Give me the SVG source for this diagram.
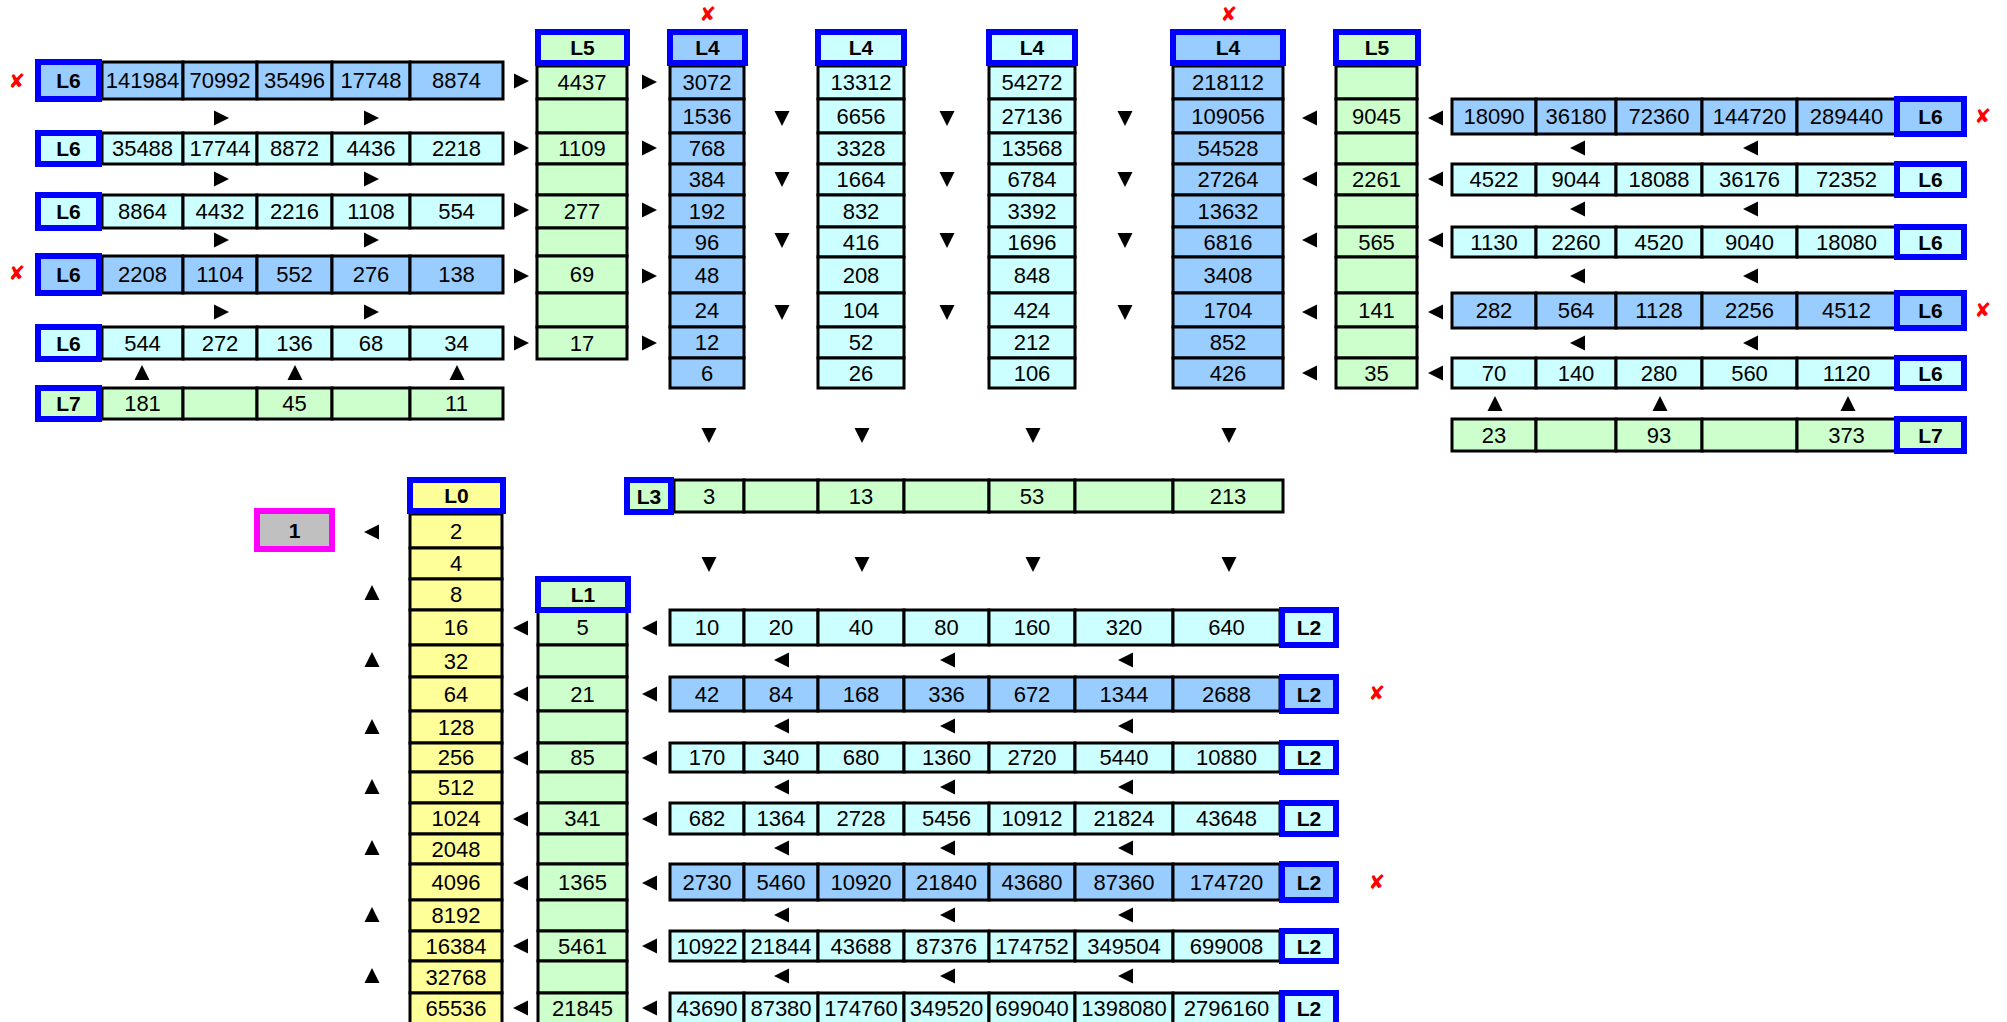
<svg xmlns="http://www.w3.org/2000/svg" xmlns:xlink="http://www.w3.org/1999/xlink" width="2007" height="1022" viewBox="0 0 2007 1022">
<style>
.k{stroke:#000;stroke-width:3}
.b{fill:#99CCFF}.c{fill:#CCFFFF}.g{fill:#CCFFCC}.y{fill:#FFFF99}
.lb{stroke:#0000FF;stroke-width:6}
text{font-family:"Liberation Sans",Arial,sans-serif;font-size:22px;text-anchor:middle;fill:#000}
.h{font-weight:bold;font-size:21px}
.x{fill:#FF0000;font-family:"DejaVu Sans",sans-serif;font-size:20px}
</style>
<defs>
<path id="ar" d="M-7 -7.5L8 0L-7 7.5Z"/>
<path id="al" d="M7 -7.5L-8 0L7 7.5Z"/>
<path id="au" d="M-7.5 7L0 -8L7.5 7Z"/>
<path id="ad" d="M-7.5 -7L0 8L7.5 -7Z"/>
</defs>
<rect width="2007" height="1022" fill="#fff"/>

<!-- Left L6 rows -->
<g id="left-l6-1">
<rect class="k b" x="102" y="62" width="81" height="37"/><rect class="k b" x="183" y="62" width="74" height="37"/><rect class="k b" x="257" y="62" width="75" height="37"/><rect class="k b" x="332" y="62" width="78" height="37"/><rect class="k b" x="410" y="62" width="93" height="37"/>
<text x="142.5" y="88">141984</text><text x="220" y="88">70992</text><text x="294.5" y="88">35496</text><text x="371" y="88">17748</text><text x="456.5" y="88">8874</text>
<rect class="lb b" x="38" y="62" width="61" height="37"/><text class="h" x="68.5" y="88">L6</text>
</g>
<g id="left-l6-2">
<rect class="k c" x="102" y="133" width="81" height="31"/><rect class="k c" x="183" y="133" width="74" height="31"/><rect class="k c" x="257" y="133" width="75" height="31"/><rect class="k c" x="332" y="133" width="78" height="31"/><rect class="k c" x="410" y="133" width="93" height="31"/>
<text x="142.5" y="156">35488</text><text x="220" y="156">17744</text><text x="294.5" y="156">8872</text><text x="371" y="156">4436</text><text x="456.5" y="156">2218</text>
<rect class="lb c" x="38" y="133" width="61" height="31"/><text class="h" x="68.5" y="156">L6</text>
</g>
<g id="left-l6-3">
<rect class="k c" x="102" y="195" width="81" height="33"/><rect class="k c" x="183" y="195" width="74" height="33"/><rect class="k c" x="257" y="195" width="75" height="33"/><rect class="k c" x="332" y="195" width="78" height="33"/><rect class="k c" x="410" y="195" width="93" height="33"/>
<text x="142.5" y="219">8864</text><text x="220" y="219">4432</text><text x="294.5" y="219">2216</text><text x="371" y="219">1108</text><text x="456.5" y="219">554</text>
<rect class="lb c" x="38" y="195" width="61" height="33"/><text class="h" x="68.5" y="219">L6</text>
</g>
<g id="left-l6-4">
<rect class="k b" x="102" y="256" width="81" height="37"/><rect class="k b" x="183" y="256" width="74" height="37"/><rect class="k b" x="257" y="256" width="75" height="37"/><rect class="k b" x="332" y="256" width="78" height="37"/><rect class="k b" x="410" y="256" width="93" height="37"/>
<text x="142.5" y="282">2208</text><text x="220" y="282">1104</text><text x="294.5" y="282">552</text><text x="371" y="282">276</text><text x="456.5" y="282">138</text>
<rect class="lb b" x="38" y="256" width="61" height="37"/><text class="h" x="68.5" y="282">L6</text>
</g>
<g id="left-l6-5">
<rect class="k c" x="102" y="327" width="81" height="32"/><rect class="k c" x="183" y="327" width="74" height="32"/><rect class="k c" x="257" y="327" width="75" height="32"/><rect class="k c" x="332" y="327" width="78" height="32"/><rect class="k c" x="410" y="327" width="93" height="32"/>
<text x="142.5" y="350.5">544</text><text x="220" y="350.5">272</text><text x="294.5" y="350.5">136</text><text x="371" y="350.5">68</text><text x="456.5" y="350.5">34</text>
<rect class="lb c" x="38" y="327" width="61" height="32"/><text class="h" x="68.5" y="350.5">L6</text>
</g>
<g id="left-l7">
<rect class="k g" x="102" y="388" width="81" height="31"/><rect class="k g" x="183" y="388" width="74" height="31"/><rect class="k g" x="257" y="388" width="75" height="31"/><rect class="k g" x="332" y="388" width="78" height="31"/><rect class="k g" x="410" y="388" width="93" height="31"/>
<text x="142.5" y="411">181</text><text x="294.5" y="411">45</text><text x="456.5" y="411">11</text>
<rect class="lb g" x="38" y="388" width="61" height="31"/><text class="h" x="68.5" y="411">L7</text>
</g>

<!-- Left L5 column -->
<g id="left-l5">
<rect class="k g" x="537" y="66" width="90" height="33"/><rect class="k g" x="537" y="99" width="90" height="34"/><rect class="k g" x="537" y="133" width="90" height="31"/><rect class="k g" x="537" y="164" width="90" height="31"/><rect class="k g" x="537" y="195" width="90" height="33"/><rect class="k g" x="537" y="228" width="90" height="28"/><rect class="k g" x="537" y="256" width="90" height="37"/><rect class="k g" x="537" y="293" width="90" height="34"/><rect class="k g" x="537" y="327" width="90" height="32"/>
<text x="582" y="90">4437</text><text x="582" y="156">1109</text><text x="582" y="219">277</text><text x="582" y="282">69</text><text x="582" y="350.5">17</text>
<rect class="lb g" x="538" y="32" width="89" height="31"/><text class="h" x="582.5" y="55">L5</text>
</g>

<!-- L4 columns -->
<g id="l4-1">
<rect class="k b" x="670" y="66" width="74" height="33"/><rect class="k b" x="670" y="99" width="74" height="34"/><rect class="k b" x="670" y="133" width="74" height="31"/><rect class="k b" x="670" y="164" width="74" height="31"/><rect class="k b" x="670" y="195" width="74" height="32"/><rect class="k b" x="670" y="227" width="74" height="30"/><rect class="k b" x="670" y="257" width="74" height="36"/><rect class="k b" x="670" y="293" width="74" height="34"/><rect class="k b" x="670" y="327" width="74" height="31"/><rect class="k b" x="670" y="358" width="74" height="30"/>
<text x="707" y="90">3072</text><text x="707" y="123.5">1536</text><text x="707" y="156">768</text><text x="707" y="187">384</text><text x="707" y="218.5">192</text><text x="707" y="249.5">96</text><text x="707" y="282.5">48</text><text x="707" y="317.5">24</text><text x="707" y="350">12</text><text x="707" y="380.5">6</text>
<rect class="lb b" x="670" y="32" width="75" height="31"/><text class="h" x="707.5" y="55">L4</text>
</g>
<g id="l4-2">
<rect class="k c" x="818" y="66" width="86" height="33"/><rect class="k c" x="818" y="99" width="86" height="34"/><rect class="k c" x="818" y="133" width="86" height="31"/><rect class="k c" x="818" y="164" width="86" height="31"/><rect class="k c" x="818" y="195" width="86" height="32"/><rect class="k c" x="818" y="227" width="86" height="30"/><rect class="k c" x="818" y="257" width="86" height="36"/><rect class="k c" x="818" y="293" width="86" height="34"/><rect class="k c" x="818" y="327" width="86" height="31"/><rect class="k c" x="818" y="358" width="86" height="30"/>
<text x="861" y="90">13312</text><text x="861" y="123.5">6656</text><text x="861" y="156">3328</text><text x="861" y="187">1664</text><text x="861" y="218.5">832</text><text x="861" y="249.5">416</text><text x="861" y="282.5">208</text><text x="861" y="317.5">104</text><text x="861" y="350">52</text><text x="861" y="380.5">26</text>
<rect class="lb c" x="818" y="32" width="86" height="31"/><text class="h" x="861" y="55">L4</text>
</g>
<g id="l4-3">
<rect class="k c" x="989" y="66" width="86" height="33"/><rect class="k c" x="989" y="99" width="86" height="34"/><rect class="k c" x="989" y="133" width="86" height="31"/><rect class="k c" x="989" y="164" width="86" height="31"/><rect class="k c" x="989" y="195" width="86" height="32"/><rect class="k c" x="989" y="227" width="86" height="30"/><rect class="k c" x="989" y="257" width="86" height="36"/><rect class="k c" x="989" y="293" width="86" height="34"/><rect class="k c" x="989" y="327" width="86" height="31"/><rect class="k c" x="989" y="358" width="86" height="30"/>
<text x="1032" y="90">54272</text><text x="1032" y="123.5">27136</text><text x="1032" y="156">13568</text><text x="1032" y="187">6784</text><text x="1032" y="218.5">3392</text><text x="1032" y="249.5">1696</text><text x="1032" y="282.5">848</text><text x="1032" y="317.5">424</text><text x="1032" y="350">212</text><text x="1032" y="380.5">106</text>
<rect class="lb c" x="989" y="32" width="86" height="31"/><text class="h" x="1032" y="55">L4</text>
</g>
<g id="l4-4">
<rect class="k b" x="1173" y="66" width="110" height="33"/><rect class="k b" x="1173" y="99" width="110" height="34"/><rect class="k b" x="1173" y="133" width="110" height="31"/><rect class="k b" x="1173" y="164" width="110" height="31"/><rect class="k b" x="1173" y="195" width="110" height="32"/><rect class="k b" x="1173" y="227" width="110" height="30"/><rect class="k b" x="1173" y="257" width="110" height="36"/><rect class="k b" x="1173" y="293" width="110" height="34"/><rect class="k b" x="1173" y="327" width="110" height="31"/><rect class="k b" x="1173" y="358" width="110" height="30"/>
<text x="1228" y="90">218112</text><text x="1228" y="123.5">109056</text><text x="1228" y="156">54528</text><text x="1228" y="187">27264</text><text x="1228" y="218.5">13632</text><text x="1228" y="249.5">6816</text><text x="1228" y="282.5">3408</text><text x="1228" y="317.5">1704</text><text x="1228" y="350">852</text><text x="1228" y="380.5">426</text>
<rect class="lb b" x="1173" y="32" width="110" height="31"/><text class="h" x="1228" y="55">L4</text>
</g>

<!-- Right L5 column -->
<g id="right-l5">
<rect class="k g" x="1336" y="66" width="81" height="33"/><rect class="k g" x="1336" y="99" width="81" height="34"/><rect class="k g" x="1336" y="133" width="81" height="31"/><rect class="k g" x="1336" y="164" width="81" height="31"/><rect class="k g" x="1336" y="195" width="81" height="32"/><rect class="k g" x="1336" y="227" width="81" height="30"/><rect class="k g" x="1336" y="257" width="81" height="36"/><rect class="k g" x="1336" y="293" width="81" height="34"/><rect class="k g" x="1336" y="327" width="81" height="31"/><rect class="k g" x="1336" y="358" width="81" height="30"/>
<text x="1376.5" y="123.5">9045</text><text x="1376.5" y="187">2261</text><text x="1376.5" y="249.5">565</text><text x="1376.5" y="317.5">141</text><text x="1376.5" y="380.5">35</text>
<rect class="lb g" x="1336" y="32" width="82" height="31"/><text class="h" x="1377" y="55">L5</text>
</g>

<!-- Right L6 rows -->
<g id="right-l6-1">
<rect class="k b" x="1452" y="99" width="84" height="35"/><rect class="k b" x="1536" y="99" width="80" height="35"/><rect class="k b" x="1616" y="99" width="86" height="35"/><rect class="k b" x="1702" y="99" width="95" height="35"/><rect class="k b" x="1797" y="99" width="99" height="35"/>
<text x="1494" y="124">18090</text><text x="1576" y="124">36180</text><text x="1659" y="124">72360</text><text x="1749.5" y="124">144720</text><text x="1846.5" y="124">289440</text>
<rect class="lb b" x="1897" y="99" width="67" height="35"/><text class="h" x="1930.5" y="124">L6</text>
</g>
<g id="right-l6-2">
<rect class="k c" x="1452" y="164" width="84" height="31"/><rect class="k c" x="1536" y="164" width="80" height="31"/><rect class="k c" x="1616" y="164" width="86" height="31"/><rect class="k c" x="1702" y="164" width="95" height="31"/><rect class="k c" x="1797" y="164" width="99" height="31"/>
<text x="1494" y="187">4522</text><text x="1576" y="187">9044</text><text x="1659" y="187">18088</text><text x="1749.5" y="187">36176</text><text x="1846.5" y="187">72352</text>
<rect class="lb c" x="1897" y="164" width="67" height="31"/><text class="h" x="1930.5" y="187">L6</text>
</g>
<g id="right-l6-3">
<rect class="k c" x="1452" y="227" width="84" height="30"/><rect class="k c" x="1536" y="227" width="80" height="30"/><rect class="k c" x="1616" y="227" width="86" height="30"/><rect class="k c" x="1702" y="227" width="95" height="30"/><rect class="k c" x="1797" y="227" width="99" height="30"/>
<text x="1494" y="249.5">1130</text><text x="1576" y="249.5">2260</text><text x="1659" y="249.5">4520</text><text x="1749.5" y="249.5">9040</text><text x="1846.5" y="249.5">18080</text>
<rect class="lb c" x="1897" y="227" width="67" height="30"/><text class="h" x="1930.5" y="249.5">L6</text>
</g>
<g id="right-l6-4">
<rect class="k b" x="1452" y="293" width="84" height="35"/><rect class="k b" x="1536" y="293" width="80" height="35"/><rect class="k b" x="1616" y="293" width="86" height="35"/><rect class="k b" x="1702" y="293" width="95" height="35"/><rect class="k b" x="1797" y="293" width="99" height="35"/>
<text x="1494" y="318">282</text><text x="1576" y="318">564</text><text x="1659" y="318">1128</text><text x="1749.5" y="318">2256</text><text x="1846.5" y="318">4512</text>
<rect class="lb b" x="1897" y="293" width="67" height="35"/><text class="h" x="1930.5" y="318">L6</text>
</g>
<g id="right-l6-5">
<rect class="k c" x="1452" y="358" width="84" height="30"/><rect class="k c" x="1536" y="358" width="80" height="30"/><rect class="k c" x="1616" y="358" width="86" height="30"/><rect class="k c" x="1702" y="358" width="95" height="30"/><rect class="k c" x="1797" y="358" width="99" height="30"/>
<text x="1494" y="380.5">70</text><text x="1576" y="380.5">140</text><text x="1659" y="380.5">280</text><text x="1749.5" y="380.5">560</text><text x="1846.5" y="380.5">1120</text>
<rect class="lb c" x="1897" y="358" width="67" height="30"/><text class="h" x="1930.5" y="380.5">L6</text>
</g>
<g id="right-l7">
<rect class="k g" x="1452" y="419" width="84" height="32"/><rect class="k g" x="1536" y="419" width="80" height="32"/><rect class="k g" x="1616" y="419" width="86" height="32"/><rect class="k g" x="1702" y="419" width="95" height="32"/><rect class="k g" x="1797" y="419" width="99" height="32"/>
<text x="1494" y="442.5">23</text><text x="1659" y="442.5">93</text><text x="1846.5" y="442.5">373</text>
<rect class="lb g" x="1897" y="419" width="67" height="32"/><text class="h" x="1930.5" y="442.5">L7</text>
</g>

<!-- L3 row -->
<g id="l3">
<rect class="k g" x="674" y="480" width="70" height="32"/><rect class="k g" x="744" y="480" width="74" height="32"/><rect class="k g" x="818" y="480" width="86" height="32"/><rect class="k g" x="904" y="480" width="85" height="32"/><rect class="k g" x="989" y="480" width="86" height="32"/><rect class="k g" x="1075" y="480" width="98" height="32"/><rect class="k g" x="1173" y="480" width="110" height="32"/>
<text x="709" y="503.5">3</text><text x="861" y="503.5">13</text><text x="1032" y="503.5">53</text><text x="1228" y="503.5">213</text>
<rect class="lb g" x="627" y="480" width="44" height="32"/><text class="h" x="649" y="503.5">L3</text>
</g>

<!-- Result -->
<g id="result">
<rect x="257" y="511" width="75" height="38" fill="#C0C0C0" stroke="#FF00FF" stroke-width="6"/>
<text class="h" x="294.5" y="537.5">1</text>
</g>

<!-- L0 column -->
<g id="l0">
<rect class="k y" x="410" y="514" width="92" height="34"/><rect class="k y" x="410" y="548" width="92" height="31"/><rect class="k y" x="410" y="579" width="92" height="31"/><rect class="k y" x="410" y="610" width="92" height="35"/><rect class="k y" x="410" y="645" width="92" height="32"/><rect class="k y" x="410" y="677" width="92" height="34"/><rect class="k y" x="410" y="711" width="92" height="32"/><rect class="k y" x="410" y="743" width="92" height="29"/><rect class="k y" x="410" y="772" width="92" height="31"/><rect class="k y" x="410" y="803" width="92" height="31"/><rect class="k y" x="410" y="834" width="92" height="30"/><rect class="k y" x="410" y="864" width="92" height="36"/><rect class="k y" x="410" y="900" width="92" height="31"/><rect class="k y" x="410" y="931" width="92" height="30"/><rect class="k y" x="410" y="961" width="92" height="32"/><rect class="k y" x="410" y="993" width="92" height="33"/>
<text x="456" y="538.5">2</text><text x="456" y="571">4</text><text x="456" y="602">8</text><text x="456" y="635">16</text><text x="456" y="668.5">32</text><text x="456" y="701.5">64</text><text x="456" y="734.5">128</text><text x="456" y="765">256</text><text x="456" y="795">512</text><text x="456" y="826">1024</text><text x="456" y="856.5">2048</text><text x="456" y="889.5">4096</text><text x="456" y="923">8192</text><text x="456" y="953.5">16384</text><text x="456" y="984.5">32768</text><text x="456" y="1015.5">65536</text>
<rect class="lb y" x="410" y="480" width="93" height="31"/><text class="h" x="456.5" y="503">L0</text>
</g>

<!-- L1 column -->
<g id="l1">
<rect class="k g" x="538" y="610" width="89" height="35"/><rect class="k g" x="538" y="645" width="89" height="32"/><rect class="k g" x="538" y="677" width="89" height="34"/><rect class="k g" x="538" y="711" width="89" height="32"/><rect class="k g" x="538" y="743" width="89" height="29"/><rect class="k g" x="538" y="772" width="89" height="31"/><rect class="k g" x="538" y="803" width="89" height="31"/><rect class="k g" x="538" y="834" width="89" height="30"/><rect class="k g" x="538" y="864" width="89" height="36"/><rect class="k g" x="538" y="900" width="89" height="31"/><rect class="k g" x="538" y="931" width="89" height="30"/><rect class="k g" x="538" y="961" width="89" height="32"/><rect class="k g" x="538" y="993" width="89" height="33"/>
<text x="582.5" y="635">5</text><text x="582.5" y="701.5">21</text><text x="582.5" y="765">85</text><text x="582.5" y="826">341</text><text x="582.5" y="889.5">1365</text><text x="582.5" y="953.5">5461</text><text x="582.5" y="1015.5">21845</text>
<rect class="lb g" x="538" y="579" width="90" height="31"/><text class="h" x="583" y="602">L1</text>
</g>

<!-- L2 rows -->
<g id="l2-1">
<rect class="k c" x="670" y="610" width="74" height="35"/><rect class="k c" x="744" y="610" width="74" height="35"/><rect class="k c" x="818" y="610" width="86" height="35"/><rect class="k c" x="904" y="610" width="85" height="35"/><rect class="k c" x="989" y="610" width="86" height="35"/><rect class="k c" x="1075" y="610" width="98" height="35"/><rect class="k c" x="1173" y="610" width="107" height="35"/>
<text x="707" y="635">10</text><text x="781" y="635">20</text><text x="861" y="635">40</text><text x="946.5" y="635">80</text><text x="1032" y="635">160</text><text x="1124" y="635">320</text><text x="1226.5" y="635">640</text>
<rect class="lb c" x="1282" y="610" width="54" height="35"/><text class="h" x="1309" y="635">L2</text>
</g>
<g id="l2-2">
<rect class="k b" x="670" y="677" width="74" height="34"/><rect class="k b" x="744" y="677" width="74" height="34"/><rect class="k b" x="818" y="677" width="86" height="34"/><rect class="k b" x="904" y="677" width="85" height="34"/><rect class="k b" x="989" y="677" width="86" height="34"/><rect class="k b" x="1075" y="677" width="98" height="34"/><rect class="k b" x="1173" y="677" width="107" height="34"/>
<text x="707" y="701.5">42</text><text x="781" y="701.5">84</text><text x="861" y="701.5">168</text><text x="946.5" y="701.5">336</text><text x="1032" y="701.5">672</text><text x="1124" y="701.5">1344</text><text x="1226.5" y="701.5">2688</text>
<rect class="lb b" x="1282" y="677" width="54" height="34"/><text class="h" x="1309" y="701.5">L2</text>
</g>
<g id="l2-3">
<rect class="k c" x="670" y="743" width="74" height="29"/><rect class="k c" x="744" y="743" width="74" height="29"/><rect class="k c" x="818" y="743" width="86" height="29"/><rect class="k c" x="904" y="743" width="85" height="29"/><rect class="k c" x="989" y="743" width="86" height="29"/><rect class="k c" x="1075" y="743" width="98" height="29"/><rect class="k c" x="1173" y="743" width="107" height="29"/>
<text x="707" y="765">170</text><text x="781" y="765">340</text><text x="861" y="765">680</text><text x="946.5" y="765">1360</text><text x="1032" y="765">2720</text><text x="1124" y="765">5440</text><text x="1226.5" y="765">10880</text>
<rect class="lb c" x="1282" y="743" width="54" height="29"/><text class="h" x="1309" y="765">L2</text>
</g>
<g id="l2-4">
<rect class="k c" x="670" y="803" width="74" height="31"/><rect class="k c" x="744" y="803" width="74" height="31"/><rect class="k c" x="818" y="803" width="86" height="31"/><rect class="k c" x="904" y="803" width="85" height="31"/><rect class="k c" x="989" y="803" width="86" height="31"/><rect class="k c" x="1075" y="803" width="98" height="31"/><rect class="k c" x="1173" y="803" width="107" height="31"/>
<text x="707" y="826">682</text><text x="781" y="826">1364</text><text x="861" y="826">2728</text><text x="946.5" y="826">5456</text><text x="1032" y="826">10912</text><text x="1124" y="826">21824</text><text x="1226.5" y="826">43648</text>
<rect class="lb c" x="1282" y="803" width="54" height="31"/><text class="h" x="1309" y="826">L2</text>
</g>
<g id="l2-5">
<rect class="k b" x="670" y="864" width="74" height="36"/><rect class="k b" x="744" y="864" width="74" height="36"/><rect class="k b" x="818" y="864" width="86" height="36"/><rect class="k b" x="904" y="864" width="85" height="36"/><rect class="k b" x="989" y="864" width="86" height="36"/><rect class="k b" x="1075" y="864" width="98" height="36"/><rect class="k b" x="1173" y="864" width="107" height="36"/>
<text x="707" y="889.5">2730</text><text x="781" y="889.5">5460</text><text x="861" y="889.5">10920</text><text x="946.5" y="889.5">21840</text><text x="1032" y="889.5">43680</text><text x="1124" y="889.5">87360</text><text x="1226.5" y="889.5">174720</text>
<rect class="lb b" x="1282" y="864" width="54" height="36"/><text class="h" x="1309" y="889.5">L2</text>
</g>
<g id="l2-6">
<rect class="k c" x="670" y="931" width="74" height="30"/><rect class="k c" x="744" y="931" width="74" height="30"/><rect class="k c" x="818" y="931" width="86" height="30"/><rect class="k c" x="904" y="931" width="85" height="30"/><rect class="k c" x="989" y="931" width="86" height="30"/><rect class="k c" x="1075" y="931" width="98" height="30"/><rect class="k c" x="1173" y="931" width="107" height="30"/>
<text x="707" y="953.5">10922</text><text x="781" y="953.5">21844</text><text x="861" y="953.5">43688</text><text x="946.5" y="953.5">87376</text><text x="1032" y="953.5">174752</text><text x="1124" y="953.5">349504</text><text x="1226.5" y="953.5">699008</text>
<rect class="lb c" x="1282" y="931" width="54" height="30"/><text class="h" x="1309" y="953.5">L2</text>
</g>
<g id="l2-7">
<rect class="k c" x="670" y="993" width="74" height="33"/><rect class="k c" x="744" y="993" width="74" height="33"/><rect class="k c" x="818" y="993" width="86" height="33"/><rect class="k c" x="904" y="993" width="85" height="33"/><rect class="k c" x="989" y="993" width="86" height="33"/><rect class="k c" x="1075" y="993" width="98" height="33"/><rect class="k c" x="1173" y="993" width="107" height="33"/>
<text x="707" y="1015.5">43690</text><text x="781" y="1015.5">87380</text><text x="861" y="1015.5">174760</text><text x="946.5" y="1015.5">349520</text><text x="1032" y="1015.5">699040</text><text x="1124" y="1015.5">1398080</text><text x="1226.5" y="1015.5">2796160</text>
<rect class="lb c" x="1282" y="993" width="54" height="33"/><text class="h" x="1309" y="1015.5">L2</text>
</g>

<!-- Connectors -->
<g id="connectors">
<use href="#ar" x="221" y="118"/><use href="#ar" x="371" y="118"/><use href="#ar" x="221" y="179"/><use href="#ar" x="371" y="179"/><use href="#ar" x="221" y="240"/><use href="#ar" x="371" y="240"/><use href="#ar" x="221" y="312"/><use href="#ar" x="371" y="312"/>
<use href="#ar" x="521" y="81"/><use href="#ar" x="521" y="148"/><use href="#ar" x="521" y="210"/><use href="#ar" x="521" y="276"/><use href="#ar" x="521" y="343"/>
<use href="#ar" x="649" y="82"/><use href="#ar" x="649" y="148"/><use href="#ar" x="649" y="210"/><use href="#ar" x="649" y="276"/><use href="#ar" x="649" y="343"/>
<use href="#au" x="142" y="373"/><use href="#au" x="295" y="373"/><use href="#au" x="457" y="373"/>
<use href="#ad" x="782" y="118"/><use href="#ad" x="782" y="179"/><use href="#ad" x="782" y="240"/><use href="#ad" x="782" y="312"/>
<use href="#ad" x="947" y="118"/><use href="#ad" x="947" y="179"/><use href="#ad" x="947" y="240"/><use href="#ad" x="947" y="312"/>
<use href="#ad" x="1125" y="118"/><use href="#ad" x="1125" y="179"/><use href="#ad" x="1125" y="240"/><use href="#ad" x="1125" y="312"/>
<use href="#al" x="1310" y="118"/><use href="#al" x="1310" y="179"/><use href="#al" x="1310" y="240"/><use href="#al" x="1310" y="312"/><use href="#al" x="1310" y="373"/>
<use href="#al" x="1436" y="118"/><use href="#al" x="1436" y="179"/><use href="#al" x="1436" y="240"/><use href="#al" x="1436" y="312"/><use href="#al" x="1436" y="373"/>
<use href="#al" x="1578" y="148"/><use href="#al" x="1751" y="148"/><use href="#al" x="1578" y="209"/><use href="#al" x="1751" y="209"/><use href="#al" x="1578" y="276"/><use href="#al" x="1751" y="276"/><use href="#al" x="1578" y="343"/><use href="#al" x="1751" y="343"/>
<use href="#au" x="1495" y="404"/><use href="#au" x="1660" y="404"/><use href="#au" x="1848" y="404"/>
<use href="#ad" x="709" y="435"/><use href="#ad" x="862" y="435"/><use href="#ad" x="1033" y="435"/><use href="#ad" x="1229" y="435"/>
<use href="#ad" x="709" y="564"/><use href="#ad" x="862" y="564"/><use href="#ad" x="1033" y="564"/><use href="#ad" x="1229" y="564"/>
<use href="#al" x="372" y="532"/>
<use href="#au" x="372" y="593"/><use href="#au" x="372" y="660"/><use href="#au" x="372" y="727"/><use href="#au" x="372" y="787"/><use href="#au" x="372" y="848"/><use href="#au" x="372" y="915"/><use href="#au" x="372" y="976"/>
<use href="#al" x="521" y="628"/><use href="#al" x="521" y="694"/><use href="#al" x="521" y="758"/><use href="#al" x="521" y="819"/><use href="#al" x="521" y="883"/><use href="#al" x="521" y="946"/><use href="#al" x="521" y="1008"/>
<use href="#al" x="650" y="628"/><use href="#al" x="650" y="694"/><use href="#al" x="650" y="758"/><use href="#al" x="650" y="819"/><use href="#al" x="650" y="883"/><use href="#al" x="650" y="946"/><use href="#al" x="650" y="1008"/>
<use href="#al" x="782" y="660"/><use href="#al" x="948" y="660"/><use href="#al" x="1126" y="660"/>
<use href="#al" x="782" y="726"/><use href="#al" x="948" y="726"/><use href="#al" x="1126" y="726"/>
<use href="#al" x="782" y="787"/><use href="#al" x="948" y="787"/><use href="#al" x="1126" y="787"/>
<use href="#al" x="782" y="848"/><use href="#al" x="948" y="848"/><use href="#al" x="1126" y="848"/>
<use href="#al" x="782" y="915"/><use href="#al" x="948" y="915"/><use href="#al" x="1126" y="915"/>
<use href="#al" x="782" y="976"/><use href="#al" x="948" y="976"/><use href="#al" x="1126" y="976"/>
</g>

<!-- Marks -->
<g id="marks">
<text class="x" x="17" y="88">✘</text><text class="x" x="17" y="280">✘</text>
<text class="x" x="708" y="21">✘</text><text class="x" x="1229" y="21">✘</text>
<text class="x" x="1983" y="123">✘</text><text class="x" x="1983" y="317">✘</text>
<text class="x" x="1377" y="700">✘</text><text class="x" x="1377" y="889">✘</text>
</g>
</svg>
